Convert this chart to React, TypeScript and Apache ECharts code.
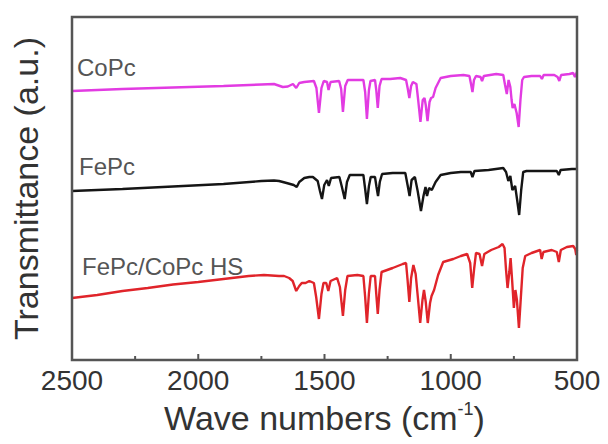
import React, { useEffect, useRef } from "react";
import * as echarts from "echarts";

// Wavenumber (cm-1) vs transmittance (arbitrary units, offset traces)
const coPc: [number, number][] = [
  [2500, 269], [2300, 271], [2100, 272.5], [1900, 274], [1750, 275.5], [1700, 276],
  [1665, 273], [1645, 273.5], [1625, 276], [1612, 272], [1600, 277], [1580, 278],
  [1542, 279], [1532, 272], [1522, 247], [1512, 272], [1503, 279], [1490, 278],
  [1484, 270], [1476, 278], [1442, 279], [1434, 271], [1427, 248], [1418, 274],
  [1408, 280], [1380, 280], [1346, 280], [1339, 268], [1332, 241], [1324, 270],
  [1318, 279], [1300, 280], [1295, 270], [1289, 252], [1282, 274], [1274, 281],
  [1240, 281], [1200, 282], [1177, 280], [1170, 271], [1164, 262], [1157, 274],
  [1150, 278], [1136, 276], [1129, 260], [1120, 238], [1111, 260], [1104, 262],
  [1099, 255], [1092, 239], [1084, 258], [1078, 262], [1070, 263], [1060, 272],
  [1040, 282], [1000, 284], [950, 285], [926, 284], [919, 275], [914, 268],
  [908, 280], [900, 284], [882, 283], [876, 279], [869, 284], [820, 286],
  [792, 285], [785, 275], [778, 266], [771, 280], [764, 273], [759, 260],
  [755, 252], [748, 256], [739, 247], [731, 233], [724, 260], [717, 280],
  [710, 283], [680, 284], [646, 284], [639, 281], [632, 285], [590, 285],
  [577, 283], [570, 279], [563, 285], [530, 286], [515, 287], [508, 283], [500, 288],
];

const fePc: [number, number][] = [
  [2500, 169], [2300, 171], [2100, 173.5], [1900, 176], [1750, 179], [1700, 179.5],
  [1680, 179], [1650, 177], [1622, 175], [1610, 173], [1600, 178], [1580, 182],
  [1560, 183], [1546, 183], [1527, 179], [1518, 169], [1510, 161], [1501, 175],
  [1490, 180], [1483, 174], [1474, 182], [1441, 183], [1432, 174], [1420, 161],
  [1411, 178], [1400, 185], [1346, 185], [1339, 171], [1332, 156], [1324, 174],
  [1317, 183], [1300, 183], [1294, 173], [1288, 164], [1281, 178], [1272, 186],
  [1230, 187], [1180, 187], [1171, 175], [1163, 164], [1155, 180], [1142, 183],
  [1131, 169], [1118, 149], [1108, 164], [1100, 173], [1094, 164], [1086, 172],
  [1075, 170], [1060, 178], [1040, 185], [1000, 187], [960, 188], [921, 188],
  [914, 183], [906, 189], [850, 190], [792, 192], [781, 188], [772, 179],
  [764, 184], [756, 170], [745, 174], [737, 160], [729, 145], [721, 170],
  [713, 188], [700, 189], [650, 189], [580, 189], [572, 185], [565, 190],
  [520, 191], [500, 191],
];

const hs: [number, number][] = [
  [2500, 62], [2400, 65], [2300, 69], [2200, 72], [2100, 75.5], [2000, 78],
  [1900, 81], [1800, 84], [1740, 85], [1680, 84], [1660, 84], [1640, 82],
  [1626, 79], [1612, 69], [1600, 74], [1590, 77], [1575, 77], [1560, 79],
  [1542, 77], [1533, 63], [1522, 41], [1512, 66], [1504, 77], [1493, 77],
  [1485, 69], [1476, 79], [1450, 82], [1439, 73], [1427, 44], [1418, 70],
  [1409, 84], [1370, 85], [1346, 84], [1339, 63], [1332, 37], [1324, 67],
  [1317, 84], [1300, 84], [1295, 66], [1289, 46], [1282, 70], [1274, 88],
  [1230, 92], [1190, 96], [1177, 97], [1171, 80], [1164, 58], [1157, 82],
  [1148, 95], [1139, 86], [1130, 62], [1121, 37], [1112, 60], [1106, 70],
  [1099, 58], [1091, 37], [1082, 57], [1076, 64], [1066, 70], [1050, 85],
  [1030, 98], [990, 101], [960, 104], [935, 106], [923, 97], [915, 72],
  [907, 92], [900, 107], [886, 106], [876, 94], [867, 106], [840, 110],
  [810, 113], [795, 116], [787, 112], [781, 90], [775, 72], [768, 88],
  [763, 102], [757, 80], [750, 52], [744, 70], [738, 60], [730, 32],
  [723, 60], [715, 92], [705, 104], [680, 107], [646, 110], [640, 101],
  [633, 108], [600, 110], [580, 108], [572, 98], [564, 110], [540, 113],
  [515, 114], [507, 111], [503, 105], [500, 110],
];

const seriesNames = ["CoPc", "FePc", "FePc/CoPc HS"];
const seriesColors = ["#e23be2", "#151515", "#e0242a"];
const xTicks = [2500, 2000, 1500, 1000, 500];
const majorTicks = [2000, 1500, 1000];
const minorTicks = [2250, 1750, 1250, 750];
const yRange = [0, 343];

const FONT = "'Liberation Sans', Arial, Helvetica, sans-serif";
const AX = "#555555";

export default function App() {
  const ref = useRef<HTMLDivElement>(null);
  useEffect(() => {
    document.body.style.margin = "0";
    const chart = echarts.init(ref.current!, undefined, { renderer: "svg" });
    const datasets = [coPc, fePc, hs];
    const tickData = [
      ...majorTicks.map((v) => [v, 6]),
      ...minorTicks.map((v) => [v, 4]),
    ];
    chart.setOption({
      animation: false,
      backgroundColor: "#ffffff",
      grid: { left: 72, right: 31, top: 17, bottom: 84 },
      xAxis: {
        type: "value",
        min: xTicks[xTicks.length - 1],
        max: xTicks[0],
        interval: 500,
        inverse: true,
        splitLine: { show: false },
        axisLine: { show: true, onZero: false, lineStyle: { color: AX, width: 2 } },
        axisTick: { show: false },
        axisLabel: {
          fontSize: 28, color: "#333", fontFamily: FONT, margin: 6,
          showMinLabel: true, showMaxLabel: true,
          formatter: (v: number) => String(v),
        },
        name: "{t|Wave numbers (cm}{s|-1}{t|)}",
        nameLocation: "middle",
        nameGap: 40,
        nameTextStyle: {
          rich: {
            t: { fontSize: 34, color: "#333", fontFamily: FONT, lineHeight: 36 },
            s: { fontSize: 18, color: "#333", fontFamily: FONT, verticalAlign: "top", lineHeight: 36, padding: [0, 0, 14, 0] },
          },
        },
      },
      yAxis: {
        type: "value",
        min: yRange[0],
        max: yRange[1],
        axisLine: { show: true, onZero: false, lineStyle: { color: AX, width: 2 } },
        axisTick: { show: false },
        axisLabel: { show: false },
        splitLine: { show: false },
        name: "Transmittance (a.u.)",
        nameLocation: "middle",
        nameGap: 29,
        nameTextStyle: { fontSize: 34, color: "#333", fontFamily: FONT },
      },
      series: [
        ...datasets.map((d, i) => ({
          name: seriesNames[i],
          type: "line",
          data: d,
          showSymbol: false,
          symbol: "none",
          lineStyle: { color: seriesColors[i], width: 2.4 },
          z: 3 - i,
        })),
        {
          type: "custom",
          data: tickData,
          z: 10,
          renderItem: (params: any, api: any) => {
            const p = api.coord([api.value(0), yRange[0]]);
            const len = api.value(1);
            return {
              type: "line",
              shape: { x1: p[0], y1: p[1], x2: p[0], y2: p[1] - len },
              style: { stroke: AX, lineWidth: 2 },
            };
          },
        },
      ],
      graphic: [
        {
          type: "rect",
          shape: { x: 72, y: 17, width: 505, height: 343 },
          style: { fill: "transparent", stroke: AX, lineWidth: 2.5 },
          z: 100,
        },
        { type: "text", x: 77, y: 67, style: { text: seriesNames[0], font: `24px ${FONT}`, fill: "#555", verticalAlign: "middle" } },
        { type: "text", x: 79, y: 166, style: { text: seriesNames[1], font: `24px ${FONT}`, fill: "#555", verticalAlign: "middle" } },
        { type: "text", x: 82, y: 266, style: { text: seriesNames[2], font: `24px ${FONT}`, fill: "#555", verticalAlign: "middle" } },
      ],
    });
    return () => chart.dispose();
  }, []);
  return <div ref={ref} style={{ position: "fixed", left: 0, top: 0, width: 608, height: 444 }} />;
}
